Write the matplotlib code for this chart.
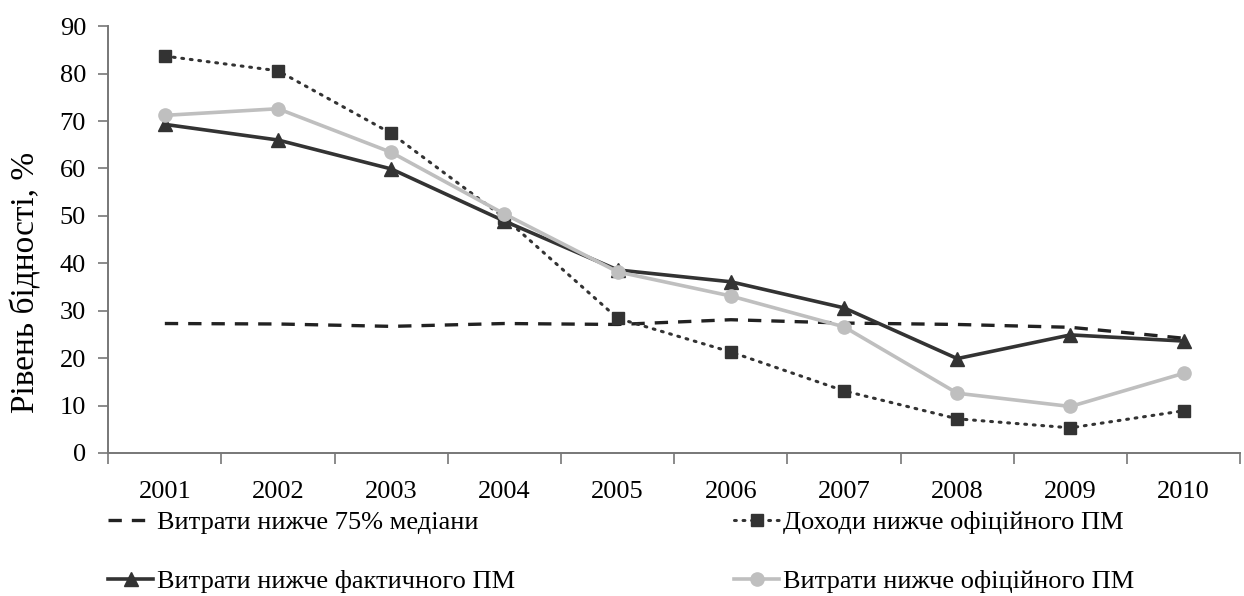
import matplotlib
matplotlib.use("Agg")
import matplotlib.pyplot as plt
from matplotlib.ticker import FixedLocator

plt.rcParams['font.family'] = ['Liberation Serif', 'DejaVu Serif']

years = ['2001', '2002', '2003', '2004', '2005', '2006', '2007', '2008', '2009', '2010']
median75 = [27.3, 27.2, 26.7, 27.3, 27.1, 28.1, 27.4, 27.1, 26.5, 24.2]
income_official = [83.7, 80.6, 67.4, 49.6, 28.4, 21.3, 13.1, 7.2, 5.3, 8.9]
exp_actual = [69.3, 66.0, 59.9, 48.9, 38.6, 36.1, 30.6, 19.9, 24.9, 23.6]
exp_official = [71.2, 72.6, 63.4, 50.4, 38.2, 33.1, 26.6, 12.6, 9.8, 16.8]

dark = '#333333'
light = '#bfbfbf'
x = list(range(len(years)))

fig = plt.figure(figsize=(12.44, 5.96), dpi=100)
ax = fig.add_axes([0.087, 0.24, 0.91, 0.716])

l1, = ax.plot(x, median75, color='#222222', lw=2.4, ls=(0, (4, 3)),
              label='Витрати нижче 75% медіани')
l2, = ax.plot(x, income_official, color=dark, lw=2.2, ls=(0, (0.6, 2.2)),
              dash_capstyle='round', marker='s', ms=8,
              label='Доходи нижче офіційного ПМ')
l3, = ax.plot(x, exp_actual, color=dark, lw=2.6, marker='^', ms=9.5,
              label='Витрати нижче фактичного ПМ')
l4, = ax.plot(x, exp_official, color=light, lw=2.6, marker='o', ms=9.5,
              label='Витрати нижче офіційного ПМ')

ax.set_xlim(-0.5, len(years) - 0.5)
ax.set_ylim(0, 90)
ax.set_yticks(range(0, 91, 10))
ax.set_xticks(x)
ax.set_xticklabels(years)
# tick marks sit between the years, labels under the years
ax.xaxis.set_minor_locator(FixedLocator([i - 0.5 for i in range(len(years) + 1)]))
ax.tick_params(axis='x', which='major', length=0, pad=20, labelsize=19)
ax.tick_params(axis='x', which='minor', length=8, width=1.2, color='#777777', direction='out')
ax.tick_params(axis='y', length=7, width=1.2, color='#777777', labelsize=19, pad=9)

for s in ['top', 'right']:
    ax.spines[s].set_visible(False)
for s in ['left', 'bottom']:
    ax.spines[s].set_color('#777777')
    ax.spines[s].set_linewidth(1.4)

ax.set_ylabel('Рівень бідності, %', fontsize=24)
ax.yaxis.set_label_coords(-0.059, 0.40)

fig.legend(handles=[l1, l3, l2, l4], loc='lower left', bbox_to_anchor=(0.068, -0.035),
           ncol=2, frameon=False, fontsize=19, handlelength=1.7, handletextpad=0.15,
           columnspacing=8.3, labelspacing=1.35)

fig.savefig('out.png', dpi=100)
